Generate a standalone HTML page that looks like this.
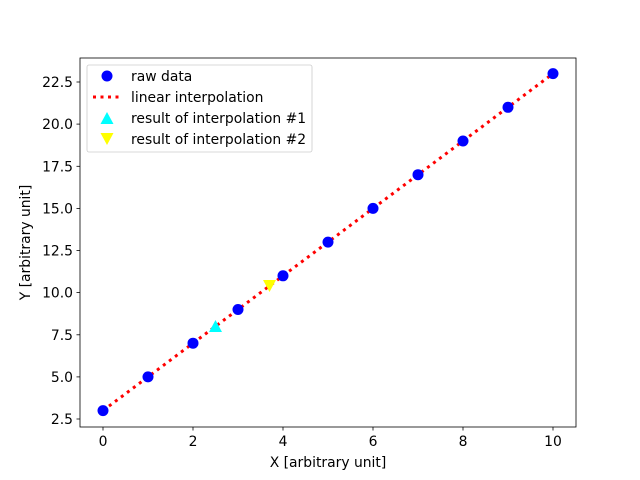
<!DOCTYPE html>
<html><head><meta charset="utf-8"><style>body{margin:0;background:#fff}svg{display:block}text{font-family:"DejaVu Sans","Liberation Sans",sans-serif;font-size:13.9px;fill:#000}</style></head><body>
<svg width="640" height="480" viewBox="0 0 640 480">
<rect x="80" y="58" width="496" height="369" fill="none" stroke="#000" stroke-width="0.8"/>
<g stroke="#000" stroke-width="0.8">
<line x1="103" y1="427" x2="103" y2="430.5"/><line x1="193" y1="427" x2="193" y2="430.5"/><line x1="283" y1="427" x2="283" y2="430.5"/><line x1="373" y1="427" x2="373" y2="430.5"/><line x1="463" y1="427" x2="463" y2="430.5"/><line x1="553" y1="427" x2="553" y2="430.5"/>
<line x1="76.5" y1="419" x2="80" y2="419"/><line x1="76.5" y1="376.9" x2="80" y2="376.9"/><line x1="76.5" y1="334.8" x2="80" y2="334.8"/><line x1="76.5" y1="292.6" x2="80" y2="292.6"/><line x1="76.5" y1="250.5" x2="80" y2="250.5"/><line x1="76.5" y1="208.4" x2="80" y2="208.4"/><line x1="76.5" y1="166.3" x2="80" y2="166.3"/><line x1="76.5" y1="124.1" x2="80" y2="124.1"/><line x1="76.5" y1="82" x2="80" y2="82"/>
</g>
<g text-anchor="middle">
<text x="103" y="446">0</text><text x="193" y="446">2</text><text x="283" y="446">4</text><text x="373" y="446">6</text><text x="463" y="446">8</text><text x="553" y="446">10</text>
<text x="328" y="467">X [arbitrary unit]</text>
</g>
<g text-anchor="end">
<text x="73" y="424">2.5</text><text x="73" y="381.9">5.0</text><text x="73" y="339.8">7.5</text><text x="73" y="297.6">10.0</text><text x="73" y="255.5">12.5</text><text x="73" y="213.4">15.0</text><text x="73" y="171.3">17.5</text><text x="73" y="129.1">20.0</text><text x="73" y="87">22.5</text>
</g>
<text transform="translate(30,242.5) rotate(-90)" text-anchor="middle">Y [arbitrary unit]</text>
<line x1="103" y1="410.6" x2="553" y2="73.6" stroke="#f00" stroke-width="3" stroke-dasharray="3,4.5"/>
<g fill="#00f">
<circle cx="103" cy="410.6" r="5.5"/><circle cx="148" cy="376.9" r="5.5"/><circle cx="193" cy="343.2" r="5.5"/><circle cx="238" cy="309.5" r="5.5"/><circle cx="283" cy="275.8" r="5.5"/><circle cx="328" cy="242.1" r="5.5"/><circle cx="373" cy="208.4" r="5.5"/><circle cx="418" cy="174.7" r="5.5"/><circle cx="463" cy="141" r="5.5"/><circle cx="508" cy="107.3" r="5.5"/><circle cx="553" cy="73.6" r="5.5"/>
</g>
<polygon points="215.5,320 222,332 209,332" fill="#0ff"/>
<polygon points="263,280 276,280 269.5,292" fill="#ff0"/>
<rect x="87" y="65" width="225" height="87" rx="2" fill="#fff" fill-opacity="0.8" stroke="#ccc" stroke-width="0.8"/>
<circle cx="107" cy="76" r="5.5" fill="#00f"/>
<text x="131" y="81">raw data</text>
<line x1="93" y1="97" x2="121" y2="97" stroke="#f00" stroke-width="3" stroke-dasharray="3,4.5"/>
<text x="131" y="102">linear interpolation</text>
<polygon points="107,112 113.5,124 100.5,124" fill="#0ff"/>
<text x="131" y="123">result of interpolation #1</text>
<polygon points="100.5,133 113.5,133 107,145" fill="#ff0"/>
<text x="131" y="144">result of interpolation #2</text>
</svg>
</body></html>
